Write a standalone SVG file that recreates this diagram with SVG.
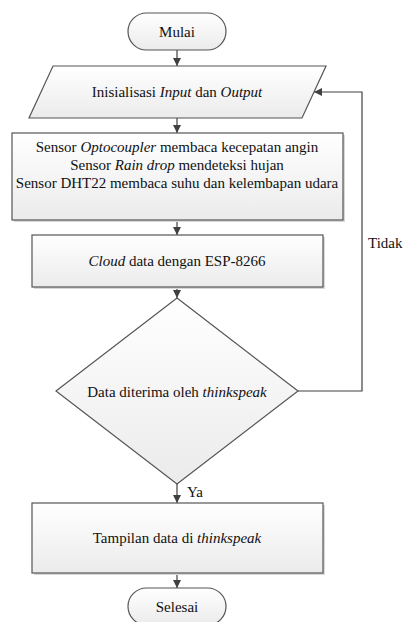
<svg xmlns="http://www.w3.org/2000/svg" width="405" height="622" viewBox="0 0 405 622">
  <defs>
    <linearGradient id="fillGrad" x1="0" y1="0" x2="0" y2="1">
      <stop offset="0" stop-color="#ffffff"/>
      <stop offset="1" stop-color="#ebebeb"/>
    </linearGradient>
    <marker id="arrow" viewBox="0 0 10 10" refX="10" refY="5" markerWidth="8" markerHeight="8" markerUnits="userSpaceOnUse" orient="auto">
      <path d="M0,0 L10,5 L0,10 z" fill="#404040"/>
    </marker>
  </defs>
  <style>
    .shape { fill: url(#fillGrad); stroke: #555555; stroke-width: 1.2; }
    .shadow { fill: #d8d8d8; stroke: none; }
    text { font-family: 'Liberation Serif', 'DejaVu Serif', serif; font-size: 15px; fill: #111111; }
    .lbl { text-anchor: middle; }
    .conn { fill: none; stroke: #404040; stroke-width: 1.2; marker-end: url(#arrow); }
    .it { font-style: italic; }
  </style>
  <rect width="405" height="622" fill="#ffffff"/>

  <g id="connectors">
    <line class="conn" x1="177" y1="50" x2="177" y2="66"/>
    <line class="conn" x1="177" y1="118" x2="177" y2="133"/>
    <line class="conn" x1="177" y1="220" x2="177" y2="235"/>
    <line class="conn" x1="177" y1="287" x2="177" y2="298"/>
    <line class="conn" x1="177" y1="484" x2="177" y2="503"/>
    <line class="conn" x1="177" y1="573" x2="177" y2="588"/>
    <polyline class="conn" points="298,391 362,391 362,92 314,92"/>
    <text x="368" y="248" font-family="Liberation Serif, serif">Tidak</text>
    <text x="187" y="497" font-family="Liberation Serif, serif">Ya</text>
  </g>

  <g id="mulai">
    <rect class="shape" x="128" y="13" width="98" height="37" rx="18.5" ry="18.5"/>
    <text class="lbl" x="177" y="37">Mulai</text>
  </g>

  <g id="inisialisasi">
    <polygon class="shape" points="53,66 326,66 302,118 29,118"/>
    <text class="lbl" x="177" y="97">Inisialisasi <tspan class="it">Input</tspan> dan <tspan class="it">Output</tspan></text>
  </g>

  <g id="sensor">
    <rect class="shadow" x="14" y="135" width="331" height="87"/>
    <rect class="shape" x="12" y="133" width="331" height="87"/>
    <text class="lbl" x="177" y="152">Sensor <tspan class="it">Optocoupler</tspan> membaca kecepatan angin</text>
    <text class="lbl" x="177" y="170">Sensor <tspan class="it">Rain drop</tspan> mendeteksi hujan</text>
    <text class="lbl" x="177" y="188">Sensor DHT22 membaca suhu dan kelembapan udara</text>
  </g>

  <g id="cloud">
    <rect class="shadow" x="34" y="237" width="291" height="52"/>
    <rect class="shape" x="32" y="235" width="291" height="52"/>
    <text class="lbl" x="177" y="266"><tspan class="it">Cloud</tspan> data dengan ESP-8266</text>
  </g>

  <g id="decision">
    <polygon class="shape" points="177,298 298,391 177,484 56,391"/>
    <text class="lbl" x="177" y="397">Data diterima oleh <tspan class="it">thinkspeak</tspan></text>
  </g>

  <g id="tampilan">
    <rect class="shadow" x="34" y="505" width="291" height="70"/>
    <rect class="shape" x="32" y="503" width="291" height="70"/>
    <text class="lbl" x="177" y="543">Tampilan data di <tspan class="it">thinkspeak</tspan></text>
  </g>

  <g id="selesai">
    <rect class="shape" x="128" y="588" width="98" height="37" rx="18.5" ry="18.5"/>
    <text class="lbl" x="177" y="612">Selesai</text>
  </g>
</svg>
